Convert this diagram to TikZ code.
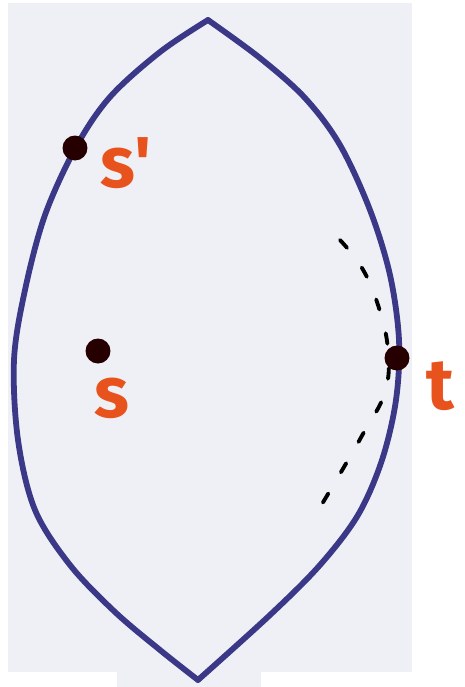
\documentclass[tikz,border=0pt]{standalone}
\usepackage{fontspec}
\setsansfont{Fira Sans}
\usepackage{xcolor}
\usetikzlibrary{positioning}

\definecolor{lensblue}{RGB}{58,56,135}
\definecolor{labelorange}{RGB}{232,82,28}
\definecolor{paper}{RGB}{239,240,245}

\begin{document}
\begin{tikzpicture}[
        x=0.02cm, y=-0.02cm,
        dot/.style={circle, fill=black!85!red, inner sep=0pt, minimum size=0.5cm},
        lbl/.style={text=labelorange, inner sep=0pt, font=\sffamily\bfseries\fontsize{41}{41}\selectfont},
        outline/.style={draw=lensblue, line width=3.3pt, line cap=round, line join=round},
        guess/.style={draw=black, line width=2.2pt, line cap=round, dash pattern=on 6pt off 14pt},
    ]

        % paper and margins
        \useasboundingbox (0,0) rectangle (464,687);
        \fill[paper] (8,3) rectangle (412,672);
        \fill[paper] (117,672) rectangle (261,687);

        % the lens
        \draw[outline] plot[smooth, tension=0.55] coordinates {(208,20) (160,52) (110,97) (76,147) (45,215) (25,290) (14,360) (18,440) (35,510) (70,565) (115,612) (160,650) (198,680)};
        \draw[outline] plot[smooth, tension=0.55] coordinates {(208,20) (260,58) (305,98) (340,145) (370,210) (390,275) (399,340) (396,400) (382,460) (358,515) (320,565) (270,615) (198,680)};

        % dashed arc near t
        \draw[guess] plot[smooth, tension=0.7] coordinates {(340,240) (362,268) (378,305) (388,350) (385,392) (364,432) (344,467) (322,504)};

        % points
        \node[dot] (sp) at (75,148) {};
        \node[dot] (s) at (98,351) {};
        \node[dot] (t) at (397,358) {};

        % labels
        \node[lbl] (sp-lbl) at (126,163) {s\textquotesingle};
        \node[lbl] (s-lbl) at (112,398) {s};
        \node[lbl] (t-lbl) at (440,386) {t};

    \end{tikzpicture}
\end{document}
